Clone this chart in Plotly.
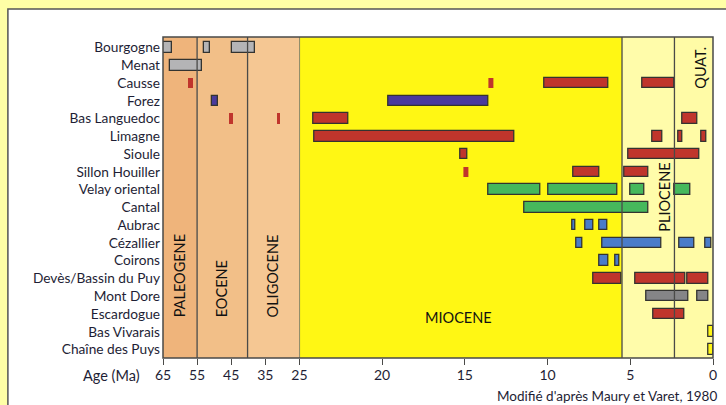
import plotly.graph_objects as go

# ---------------- data ----------------
regions = ["Bourgogne", "Menat", "Causse", "Forez", "Bas Languedoc", "Limagne", "Sioule",
           "Sillon Houiller", "Velay oriental", "Cantal", "Aubrac", "Cézallier", "Coirons",
           "Devès/Bassin du Puy", "Mont Dore", "Escardogue", "Bas Vivarais", "Chaîne des Puys"]

bar_region = ["Bourgogne", "Bourgogne", "Bourgogne",
              "Menat",
              "Causse", "Causse", "Causse", "Causse",
              "Forez", "Forez",
              "Bas Languedoc", "Bas Languedoc", "Bas Languedoc", "Bas Languedoc",
              "Limagne", "Limagne", "Limagne", "Limagne",
              "Sioule", "Sioule",
              "Sillon Houiller", "Sillon Houiller", "Sillon Houiller",
              "Velay oriental", "Velay oriental", "Velay oriental", "Velay oriental",
              "Cantal",
              "Aubrac", "Aubrac", "Aubrac",
              "Cézallier", "Cézallier", "Cézallier", "Cézallier",
              "Coirons", "Coirons",
              "Devès/Bassin du Puy", "Devès/Bassin du Puy", "Devès/Bassin du Puy",
              "Mont Dore", "Mont Dore",
              "Escardogue",
              "Bas Vivarais",
              "Chaîne des Puys"]
bar_old = [65.0, 53.0, 44.9,
           63.0,
           57.7, 13.55, 10.2, 4.27,
           50.6, 19.64,
           45.6, 31.6, 24.15, 1.84,
           24.1, 3.66, 2.08, 0.69,
           15.24, 5.09,
           15.1, 8.45, 5.38,
           13.56, 9.96, 4.99, 2.33,
           11.39,
           8.49, 7.72, 6.85,
           8.28, 6.69, 2.04, 0.47,
           6.85, 5.88,
           7.25, 4.71, 1.52,
           4.0, 0.95,
           3.58,
           0.27,
           0.27]
bar_young = [62.5, 51.1, 38.0,
             53.7,
             56.1, 13.3, 6.33, 2.35,
             48.8, 13.6,
             44.6, 30.6, 22.06, 0.93,
             12.0, 3.07, 1.82, 0.42,
             14.85, 0.85,
             14.77, 6.89, 3.92,
             10.42, 5.78, 4.12, 1.36,
             3.92,
             8.33, 7.24, 6.41,
             7.92, 3.09, 1.13, 0.12,
             6.35, 5.64,
             5.56, 1.68, 0.3,
             1.5, 0.3,
             1.7,
             0.0,
             0.0]
bar_kind = ["gray", "gray", "gray",
            "gray",
            "red", "red", "red", "red",
            "purple", "purple",
            "red", "red", "red", "red",
            "red", "red", "red", "red",
            "red", "red",
            "red", "red", "red",
            "green", "green", "green", "green",
            "green",
            "blue", "blue", "blue",
            "blue", "blue", "blue", "blue",
            "blue", "blue",
            "red", "red", "red",
            "darkgray", "darkgray",
            "red",
            "yellow",
            "yellow"]
bar_isolated = [False, False, False,
                False,
                True, True, False, False,
                False, False,
                True, True, False, False,
                False, False, False, False,
                False, False,
                True, False, False,
                False, False, False, False,
                False,
                False, False, False,
                False, False, False, False,
                False, False,
                False, False, False,
                False, False,
                False,
                False,
                False]

period_names = ["PALEOGENE", "EOCENE", "OLIGOCENE", "MIOCENE", "PLIOCENE", "QUAT."]
period_old = [65, 55, 40.2, 25, 5.5, 2.33]
period_young = [55, 40.2, 25, 5.5, 2.33, 0]

ticks_old = [65, 55, 45, 35, 25]
ticks_young = [20, 15, 10, 5, 0]

# ---------------- styling ----------------
kind_color = {"gray": "#B4B4B6", "red": "#C0352C", "purple": "#4A3A9C", "green": "#46B85C",
              "blue": "#4A7CC9", "darkgray": "#858587", "yellow": "#FFF614"}
period_color = {"PALEOGENE": "#EFB47B", "EOCENE": "#F2BF88", "OLIGOCENE": "#F5C793",
                "MIOCENE": "#FFF714", "PLIOCENE": "#FFFCAA", "QUAT.": "#FFFBA6"}
frame_col = "#4A4A48"
text_col = "#1E1E35"
FONT = "Lato, 'Open Sans', sans-serif"
SPLIT = 25

fig = go.Figure()

for axis, sel in (("x", lambda o: o > SPLIT), ("x2", lambda o: o <= SPLIT)):
    idx = [i for i, o in enumerate(bar_old) if sel(o)]
    fig.add_trace(go.Bar(
        orientation="h",
        y=[bar_region[i] for i in idx],
        base=[bar_young[i] for i in idx],
        x=[bar_old[i] - bar_young[i] for i in idx],
        width=0.59,
        marker=dict(color=[kind_color[bar_kind[i]] for i in idx],
                    line=dict(color=["rgba(0,0,0,0)" if bar_isolated[i] else "#333330" for i in idx],
                              width=[0 if bar_isolated[i] else 1.3 for i in idx])),
        xaxis=axis, yaxis="y", hoverinfo="skip", showlegend=False,
    ))

shapes = []
# white panel with border (drawn first, underneath everything)
shapes.append(dict(type="rect", xref="paper", yref="paper", x0=-0.282, x1=1.2, y0=-0.3, y1=1.087,
                   fillcolor="white", line=dict(color="#555555", width=1.5), layer="below"))
for name, o, yg in zip(period_names, period_old, period_young):
    xr = "x" if o > SPLIT else "x2"
    shapes.append(dict(type="rect", xref=xr, yref="paper", x0=o, x1=yg, y0=0, y1=1,
                       fillcolor=period_color[name], line=dict(width=0), layer="below"))
for name, o in zip(period_names[1:], period_old[1:]):
    xr = "x" if o > SPLIT else "x2"
    shapes.append(dict(type="line", xref=xr, yref="paper", x0=o, x1=o, y0=0, y1=1,
                       line=dict(color=frame_col, width=1.3), layer="above"))
# plot frame
shapes.append(dict(type="rect", xref="paper", yref="paper", x0=0, x1=1, y0=0, y1=1,
                   line=dict(color=frame_col, width=1.5), layer="above"))

ann = []
label_pos = {"PALEOGENE": (60.1, 0.121, -90, "bottom"), "EOCENE": (47.8, 0.121, -90, "bottom"),
             "OLIGOCENE": (32.8, 0.121, -90, "bottom"), "MIOCENE": (15.4, 0.125, 0, "middle"),
             "PLIOCENE": (2.95, 0.50, -90, "middle"), "QUAT.": (0.75, 0.903, -90, "middle")}
for name, o in zip(period_names, period_old):
    xr = "x" if o > SPLIT else "x2"
    px, py, ang, ya = label_pos[name]
    ann.append(dict(text=name, xref=xr, yref="paper", x=px, y=py, textangle=ang,
                    yanchor=ya, xanchor="center", showarrow=False,
                    font=dict(family=FONT, size=14.5, color="#111111")))
ann.append(dict(text="Age (Ma)", xref="paper", yref="paper", x=-0.038, y=-0.053,
                xanchor="right", yanchor="middle", showarrow=False,
                font=dict(family=FONT, size=14.5, color=text_col)))
ann.append(dict(text="Modifié d'après Maury et Varet, 1980", xref="paper", yref="paper",
                x=1.01, y=-0.118, xanchor="right", yanchor="middle", showarrow=False,
                font=dict(family=FONT, size=13.5, color=text_col)))

axis_common = dict(showgrid=False, zeroline=False, showline=False, ticks="outside",
                   ticklen=6, tickwidth=1.3, tickcolor=frame_col, automargin=False,
                   ticklabelstandoff=-2,
                   tickfont=dict(family=FONT, size=14, color=text_col), fixedrange=True)

fig.update_layout(
    width=726, height=405, autosize=False,
    margin=dict(l=163, r=13, t=37, b=47, autoexpand=False),
    paper_bgcolor="#FFFFA6", plot_bgcolor="rgba(0,0,0,0)",
    barmode="overlay", bargap=0,
    xaxis=dict(domain=[0, 0.248], range=[65, SPLIT], tickvals=ticks_old, **axis_common),
    xaxis2=dict(domain=[0.248, 1], range=[SPLIT, 0], tickvals=ticks_young, anchor="y", **axis_common),
    yaxis=dict(categoryorder="array", categoryarray=regions, autorange=False,
               range=[17.479, -0.591], automargin=False,
               showgrid=False, zeroline=False, showline=False, ticks="", ticklabelstandoff=2,
               tickfont=dict(family=FONT, size=13.7, color=text_col), fixedrange=True),
    shapes=shapes, annotations=ann,
)

fig.write_html("out.html", config={"displayModeBar": False, "responsive": False},
               post_script="document.body.style.margin='0px';document.body.style.background='#FFFFA6';document.body.style.overflow='hidden';")
